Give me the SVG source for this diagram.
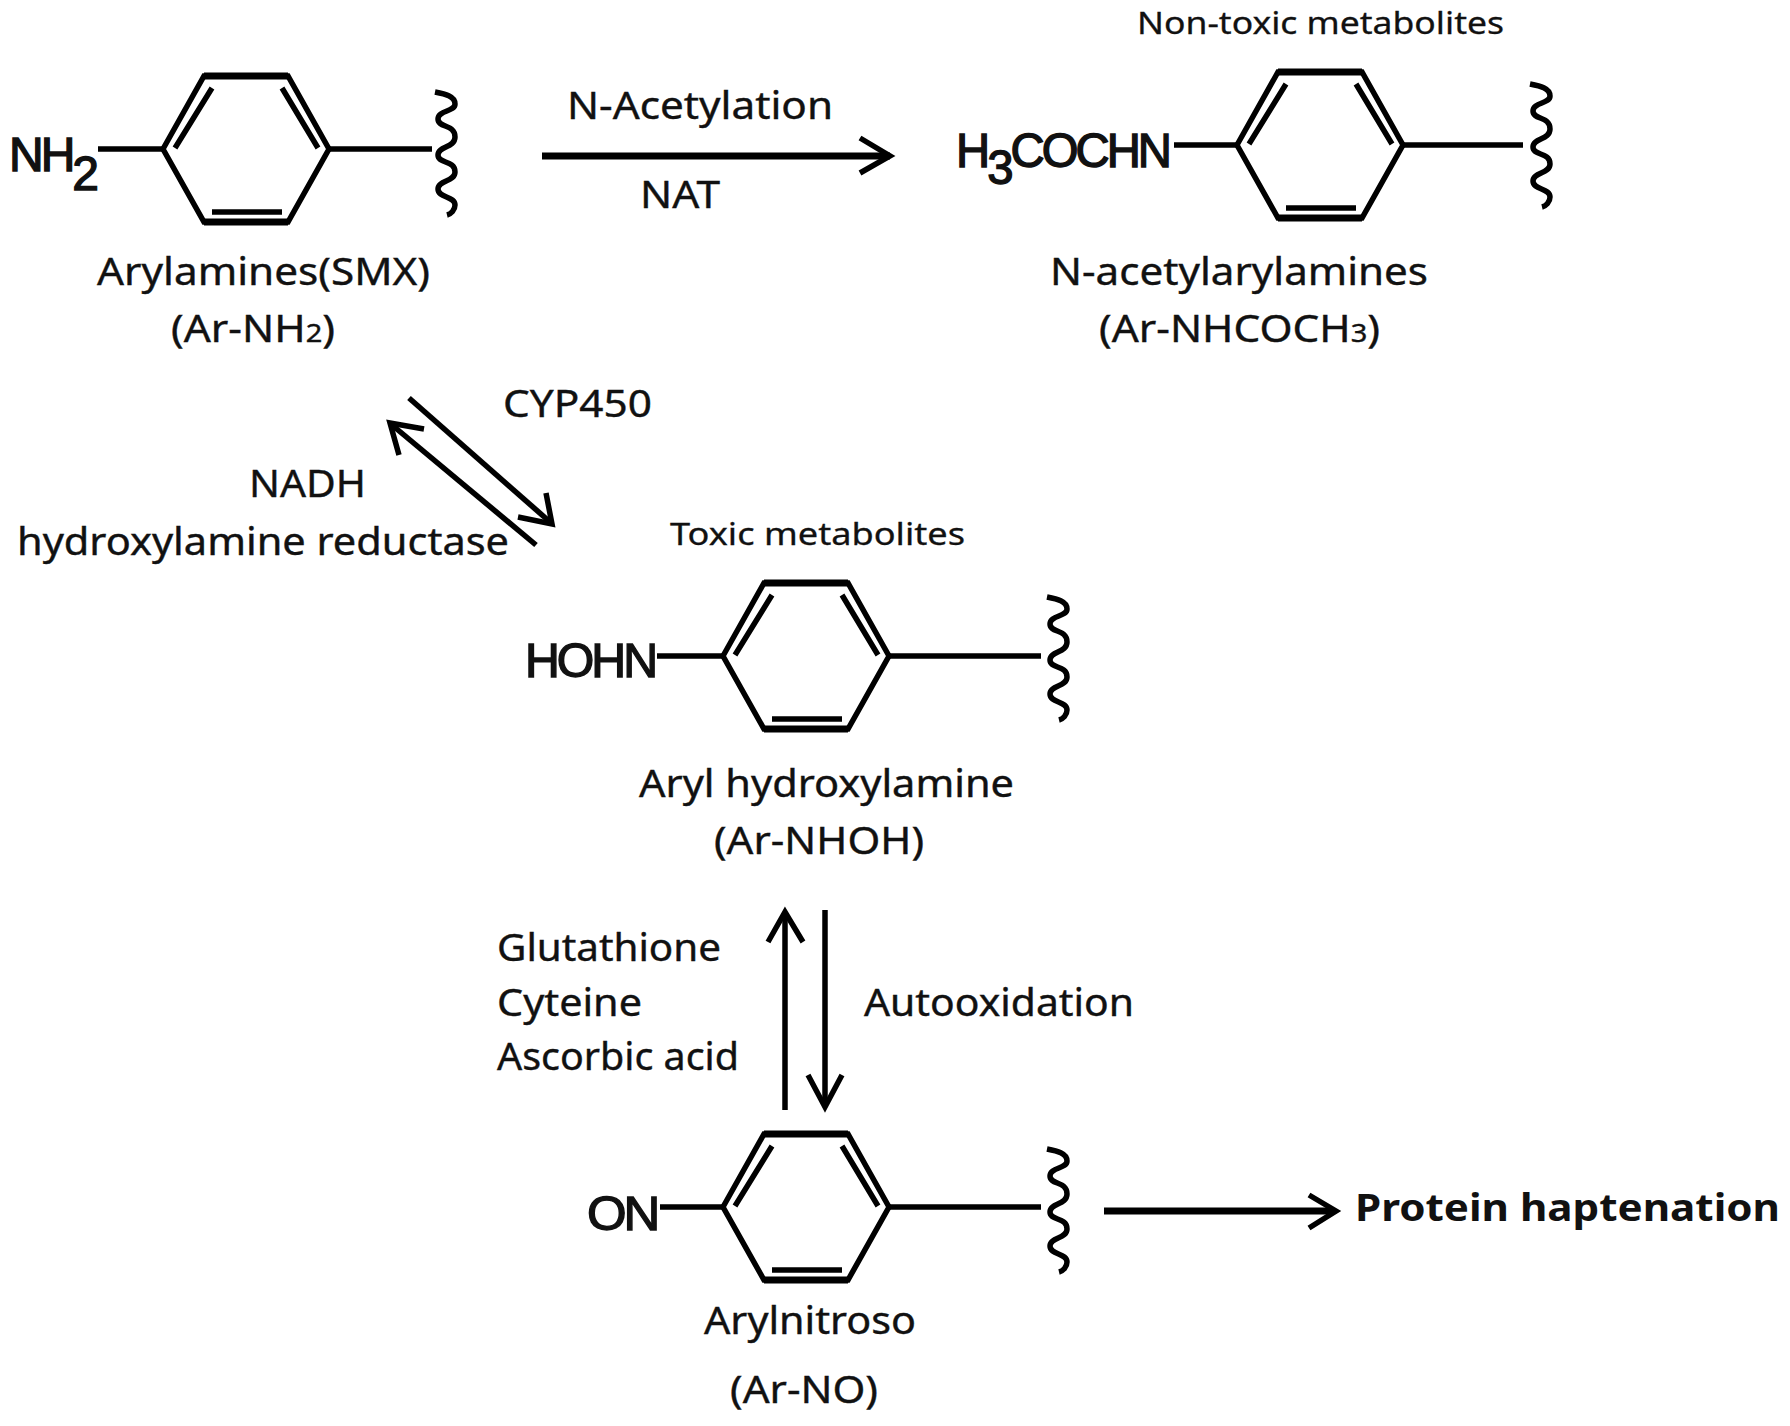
<svg xmlns="http://www.w3.org/2000/svg" width="1790" height="1426" viewBox="0 0 1790 1426">
<style>
text{font-family:"Noto Sans","Open Sans","DejaVu Sans",sans-serif;fill:#111}
.m{font-size:38px;stroke:#111;stroke-width:.4}
.s{font-size:31px;stroke:#111;stroke-width:.3}
.b{font-size:38px;font-weight:700}
.a{font-family:"Liberation Sans",Arial,sans-serif;font-size:48px;stroke:#111;stroke-width:1.4;letter-spacing:-3px}
.sub{font-size:26px}
.ln{fill:none;stroke:#000;stroke-width:5.5;stroke-linecap:butt;stroke-linejoin:miter}
.ar{fill:none;stroke:#000;stroke-width:5.5;stroke-linecap:butt;stroke-linejoin:miter}
.ht{stroke-width:7}
</style>
<defs>
<g id="ring">
<path class="ln" d="M0 0L41-73H125L166 0L125 73H41Z"/>
<path class="ln" style="stroke-width:7" d="M41-73H125M41 73H125"/>
<path class="ln" d="M12-1L49-61M119-61L155-1M49 63H119"/>
</g>
<path id="sq" class="ln" d="M0 0C10 2 20 4 20 12C20 20 3 18 3 27C3 36 20 32 20 45C20 56 3 54 3 63C3 72 20 68 20 80C20 90 3 88 3 97C3 106 20 104 20 113C20 118 16 122 12 123"/>
</defs>
<g id="connectors">
<path class="ar ht" d="M542 156H890"/><path class="ar" d="M860 138L890 156L860 173"/>
<path class="ar" d="M409 398L550 522"/><path class="ar" d="M546 493L552 524L518 517"/>
<path class="ar" d="M536 545L392 425"/><path class="ar" d="M424 429L390 423L399 455"/>
<path class="ar" d="M785 1110V914"/><path class="ar" d="M768 942L785 912L803 942"/>
<path class="ar" d="M825 910V1104"/><path class="ar" d="M808 1075L825 1107L842 1075"/>
<path class="ar ht" d="M1104 1211H1333"/><path class="ar" d="M1309 1195L1336 1211L1309 1228"/>
</g>
<g id="arylamine">
<text class="a" x="9" y="171">NH<tspan dy="19">2</tspan></text>
<path class="ln" d="M98 149H163M328 149H432"/>
<use href="#ring" x="163" y="149"/><use href="#sq" x="435" y="92"/>
<text class="m" x="97" y="285" textLength="333" lengthAdjust="spacingAndGlyphs">Arylamines(SMX)</text>
<text class="m" x="171" y="342" textLength="164" lengthAdjust="spacingAndGlyphs">(Ar-NH<tspan class="sub">2</tspan>)</text>
</g>
<g id="acetyl">
<text class="s" x="1137" y="34" textLength="367" lengthAdjust="spacingAndGlyphs">Non-toxic metabolites</text>
<text class="a" x="956" y="167" textLength="213" lengthAdjust="spacingAndGlyphs">H<tspan dy="17">3</tspan><tspan dy="-17">COCHN</tspan></text>
<path class="ln" d="M1174 145H1237M1403 145H1523"/>
<use href="#ring" x="1237" y="145"/><use href="#sq" x="1530" y="84"/>
<text class="m" x="1050" y="285" textLength="378" lengthAdjust="spacingAndGlyphs">N-acetylarylamines</text>
<text class="m" x="1099" y="342" textLength="281" lengthAdjust="spacingAndGlyphs">(Ar-NHCOCH<tspan class="sub">3</tspan>)</text>
</g>
<g id="hydroxylamine">
<text class="s" x="670" y="545" textLength="295" lengthAdjust="spacingAndGlyphs">Toxic metabolites</text>
<text class="a" x="525" y="677" textLength="130" lengthAdjust="spacingAndGlyphs">HOHN</text>
<path class="ln" d="M657 656H724M889 656H1041"/>
<use href="#ring" x="723" y="656"/><use href="#sq" x="1047" y="597"/>
<text class="m" x="639" y="797" textLength="375" lengthAdjust="spacingAndGlyphs">Aryl hydroxylamine</text>
<text class="m" x="714" y="854" textLength="210" lengthAdjust="spacingAndGlyphs">(Ar-NHOH)</text>
</g>
<g id="nitroso">
<text class="a" x="587" y="1230" textLength="70" lengthAdjust="spacingAndGlyphs">ON</text>
<path class="ln" d="M660 1207H723M889 1207H1041"/>
<use href="#ring" x="723" y="1207"/><use href="#sq" x="1047" y="1149"/>
<text class="m" x="704" y="1334" textLength="212" lengthAdjust="spacingAndGlyphs">Arylnitroso</text>
<text class="m" x="730" y="1403" textLength="148" lengthAdjust="spacingAndGlyphs">(Ar-NO)</text>
</g>
<g id="labels">
<text class="m" x="567" y="119" textLength="266" lengthAdjust="spacingAndGlyphs">N-Acetylation</text>
<text class="m" x="640" y="208" textLength="80" lengthAdjust="spacingAndGlyphs">NAT</text>
<text class="m" x="503" y="417" textLength="149" lengthAdjust="spacingAndGlyphs">CYP450</text>
<text class="m" x="249" y="497" textLength="117" lengthAdjust="spacingAndGlyphs">NADH</text>
<text class="m" x="17" y="555" textLength="492" lengthAdjust="spacingAndGlyphs">hydroxylamine reductase</text>
<text class="m" x="497" y="961" textLength="224" lengthAdjust="spacingAndGlyphs">Glutathione</text>
<text class="m" x="497" y="1016" textLength="145" lengthAdjust="spacingAndGlyphs">Cyteine</text>
<text class="m" x="497" y="1070" textLength="242" lengthAdjust="spacingAndGlyphs">Ascorbic acid</text>
<text class="m" x="864" y="1016" textLength="270" lengthAdjust="spacingAndGlyphs">Autooxidation</text>
<text class="b" x="1355" y="1221" textLength="425" lengthAdjust="spacingAndGlyphs">Protein haptenation</text>
</g>
</svg>
